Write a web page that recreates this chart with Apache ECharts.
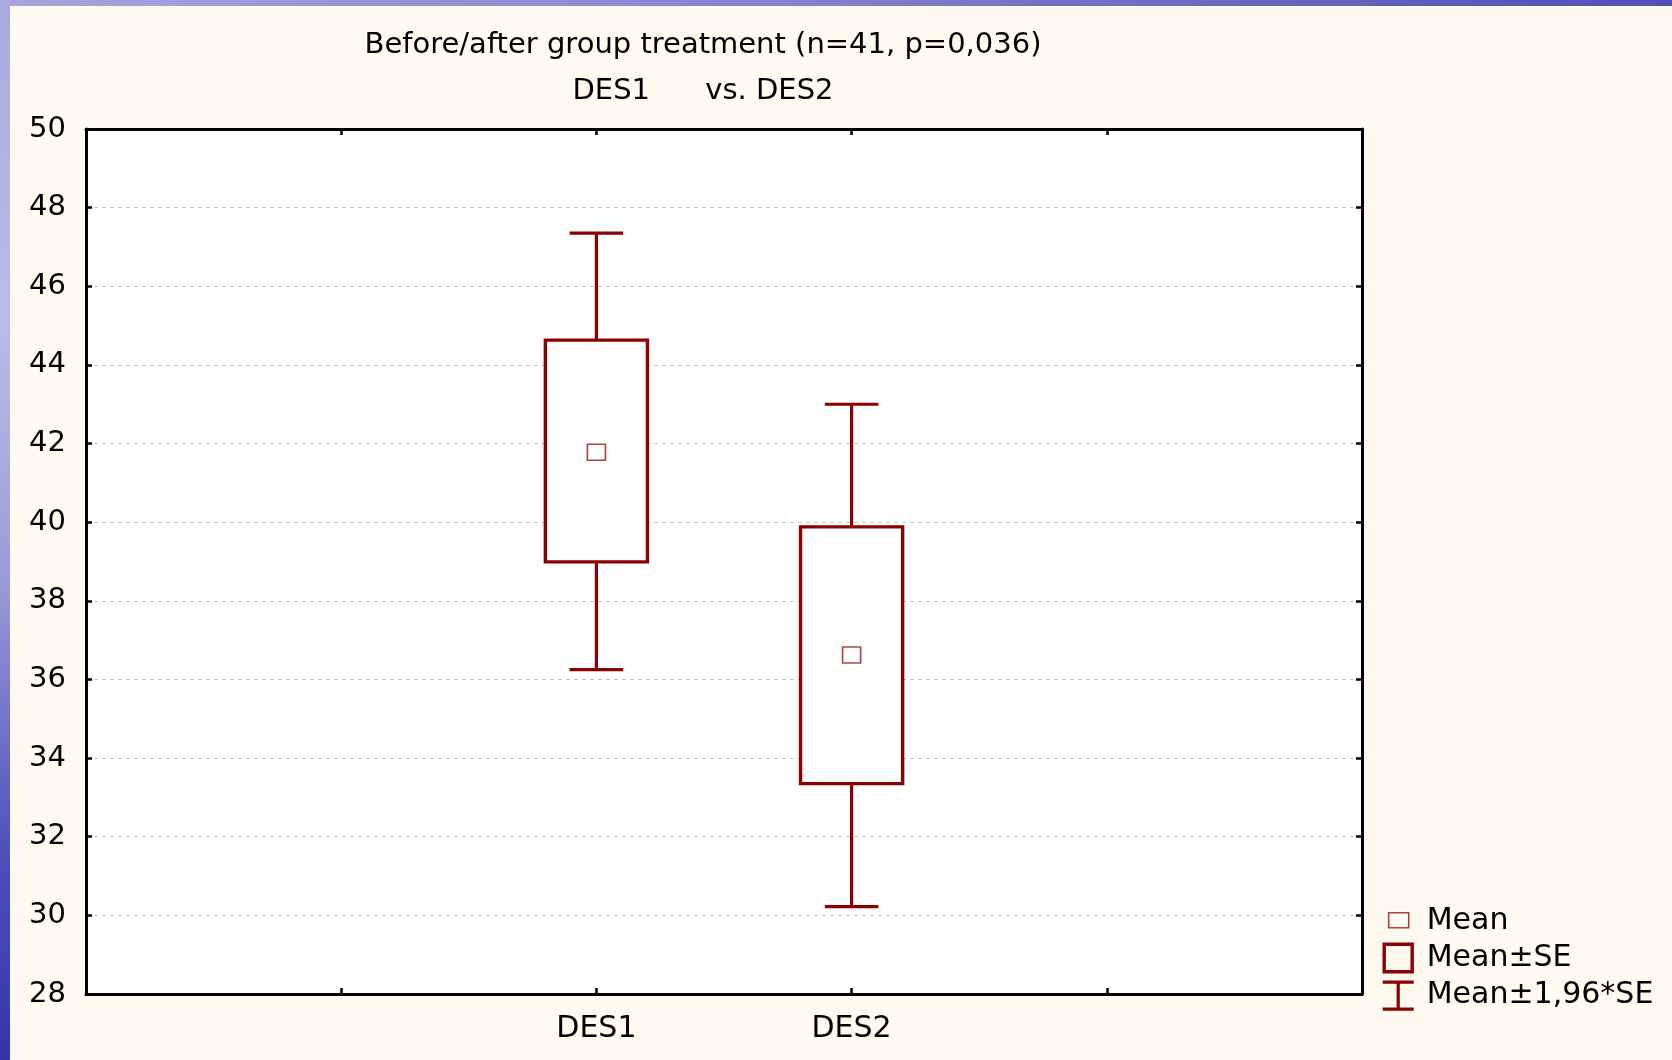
<!DOCTYPE html>
<html>
<head>
<meta charset="utf-8">
<script src="https://cdn.jsdelivr.net/npm/echarts@6/dist/echarts.min.js"></script>
<style>
html,body{margin:0;padding:0;background:#fefaf0;}
#chart{width:1672px;height:1060px;}
</style>
</head>
<body>
<div id="chart"></div>
<script>
// ---- data ----
const categories = ['', '', 'DES1', 'DES2', '', ''];
const groups = ['DES1', 'DES2'];
const means = [41.78, 36.62];
const seLower = [38.99, 33.35];
const seUpper = [44.63, 39.88];
const ciLower = [36.25, 30.22];
const ciUpper = [47.35, 43.00];
const yMin = 28, yMax = 50, yStep = 2;
const titleLines = ['Before/after group treatment (n=41, p=0,036)', 'DES1      vs. DES2'];
const legendNames = ['Mean', 'Mean\u00b1SE', 'Mean\u00b11,96*SE'];

const RED = '#8b0000';
const FONT = 'DejaVu Sans';

const chart = echarts.init(document.getElementById('chart'), null, {renderer: 'canvas'});

const boxData = groups.map((g, i) => [g, seLower[i], seUpper[i]]);
const ciData = groups.map((g, i) => [g, ciLower[i], ciUpper[i]]);
const meanData = groups.map((g, i) => [g, means[i]]);

function renderCI(params, api) {
  const x = api.value(0);
  const lo = api.coord([x, api.value(1)]);
  const hi = api.coord([x, api.value(2)]);
  const band = api.size([1, 0])[0];
  const hw = band * 0.105;
  const style = {stroke: RED, lineWidth: 3.2, fill: null};
  return {
    type: 'group',
    children: [
      {type: 'line', shape: {x1: lo[0], y1: lo[1], x2: hi[0], y2: hi[1]}, style: style},
      {type: 'line', shape: {x1: lo[0] - hw, y1: lo[1], x2: lo[0] + hw, y2: lo[1]}, style: style},
      {type: 'line', shape: {x1: hi[0] - hw, y1: hi[1], x2: hi[0] + hw, y2: hi[1]}, style: style}
    ]
  };
}

function renderBox(params, api) {
  const x = api.value(0);
  const lo = api.coord([x, api.value(1)]);
  const hi = api.coord([x, api.value(2)]);
  const band = api.size([1, 0])[0];
  const hw = band * 0.2;
  return {
    type: 'rect',
    shape: {x: lo[0] - hw, y: hi[1], width: hw * 2, height: lo[1] - hi[1]},
    style: {fill: '#ffffff', stroke: RED, lineWidth: 3.4}
  };
}

const axisLabelStyle = {color: '#000', fontFamily: FONT, fontSize: 29};

const option = {
  backgroundColor: '#fefaf0',
  animation: false,
  title: {
    text: titleLines.join('\n'),
    left: 703,
    top: 22,
    padding: 0,
    textAlign: 'center',
    textStyle: {color: '#000', fontFamily: FONT, fontSize: 29, fontWeight: 'normal', lineHeight: 46}
  },
  graphic: [
    {
      type: 'rect', left: 0, top: 0, silent: true,
      shape: {width: 1672, height: 6},
      style: {fill: new echarts.graphic.LinearGradient(0, 0, 1, 0, [
        {offset: 0, color: '#a6a6dc'}, {offset: 0.45, color: '#8585cf'}, {offset: 1, color: '#4f4fb6'}
      ])}
    },
    {
      type: 'rect', left: 0, top: 0, silent: true,
      shape: {width: 10, height: 1060},
      style: {fill: new echarts.graphic.LinearGradient(0, 0, 0, 1, [
        {offset: 0, color: '#a8a8de'}, {offset: 0.3, color: '#bcbce8'}, {offset: 0.55, color: '#9a9ad8'},
        {offset: 0.8, color: '#5050bb'}, {offset: 1, color: '#3434a8'}
      ])}
    }
  ],
  legend: {
    orient: 'vertical',
    left: 1381,
    top: 905,
    padding: 0,
    itemWidth: 39,
    itemHeight: 30,
    itemGap: 4.5,
    selectedMode: false,
    textStyle: {color: '#000', fontFamily: FONT, fontSize: 30},
    data: [
      {name: legendNames[0], icon: 'path://M0,0M39,30M6,7H26V22H6Z',
        itemStyle: {color: 'transparent', borderColor: '#961818', borderWidth: 1.6}},
      {name: legendNames[1], icon: 'path://M0,0M39,30M1.5,1.5H29.5V29H1.5Z',
        itemStyle: {color: 'transparent', borderColor: RED, borderWidth: 3.4}},
      {name: legendNames[2], icon: 'path://M0,0M39,30M0,1.5H31M15.5,1.5V28.5M0,28.5H31',
        itemStyle: {color: 'transparent', borderColor: RED, borderWidth: 3.2}}
    ]
  },
  grid: {
    left: 86, top: 129, right: 310, bottom: 66,
    show: true, backgroundColor: '#ffffff', borderWidth: 0
  },
  xAxis: [
    {
      type: 'category', data: categories, boundaryGap: false, position: 'bottom',
      axisLine: {lineStyle: {color: '#000', width: 3}},
      axisTick: {inside: true, length: 6, lineStyle: {color: '#000', width: 2.5}, alignWithLabel: true},
      axisLabel: Object.assign({margin: 20, interval: 0}, axisLabelStyle, {fontSize: 30}),
      splitLine: {show: false}
    },
    {
      type: 'category', data: categories, boundaryGap: false, position: 'top',
      axisLine: {lineStyle: {color: '#000', width: 3}},
      axisTick: {inside: true, length: 6, lineStyle: {color: '#000', width: 2.5}},
      axisLabel: {show: false},
      splitLine: {show: false}
    }
  ],
  yAxis: [
    {
      type: 'value', min: yMin, max: yMax, interval: yStep, position: 'left',
      axisLine: {show: true, lineStyle: {color: '#000', width: 3}},
      axisTick: {show: true, inside: true, length: 6, lineStyle: {color: '#000', width: 2.5}},
      axisLabel: Object.assign({margin: 20}, axisLabelStyle),
      splitLine: {show: true, lineStyle: {color: '#c8c8c8', width: 1, type: [4, 4]}}
    },
    {
      type: 'value', min: yMin, max: yMax, interval: yStep, position: 'right',
      axisLine: {show: true, lineStyle: {color: '#000', width: 3}},
      axisTick: {show: true, inside: true, length: 6, lineStyle: {color: '#000', width: 2.5}},
      axisLabel: {show: false},
      splitLine: {show: false}
    }
  ],
  series: [
    {
      name: legendNames[2], type: 'custom', renderItem: renderCI,
      xAxisIndex: 0, yAxisIndex: 0,
      encode: {x: 0, y: [1, 2]}, data: ciData, z: 2,
      itemStyle: {color: RED}
    },
    {
      name: legendNames[1], type: 'custom', renderItem: renderBox,
      xAxisIndex: 0, yAxisIndex: 0,
      encode: {x: 0, y: [1, 2]}, data: boxData, z: 3,
      itemStyle: {color: RED}
    },
    {
      name: legendNames[0], type: 'scatter',
      xAxisIndex: 0, yAxisIndex: 0,
      symbol: 'rect', symbolSize: [18, 16], data: meanData, z: 4,
      itemStyle: {color: '#ffffff', borderColor: '#961818', borderWidth: 1.6}
    }
  ]
};

chart.setOption(option);
</script>
</body>
</html>
